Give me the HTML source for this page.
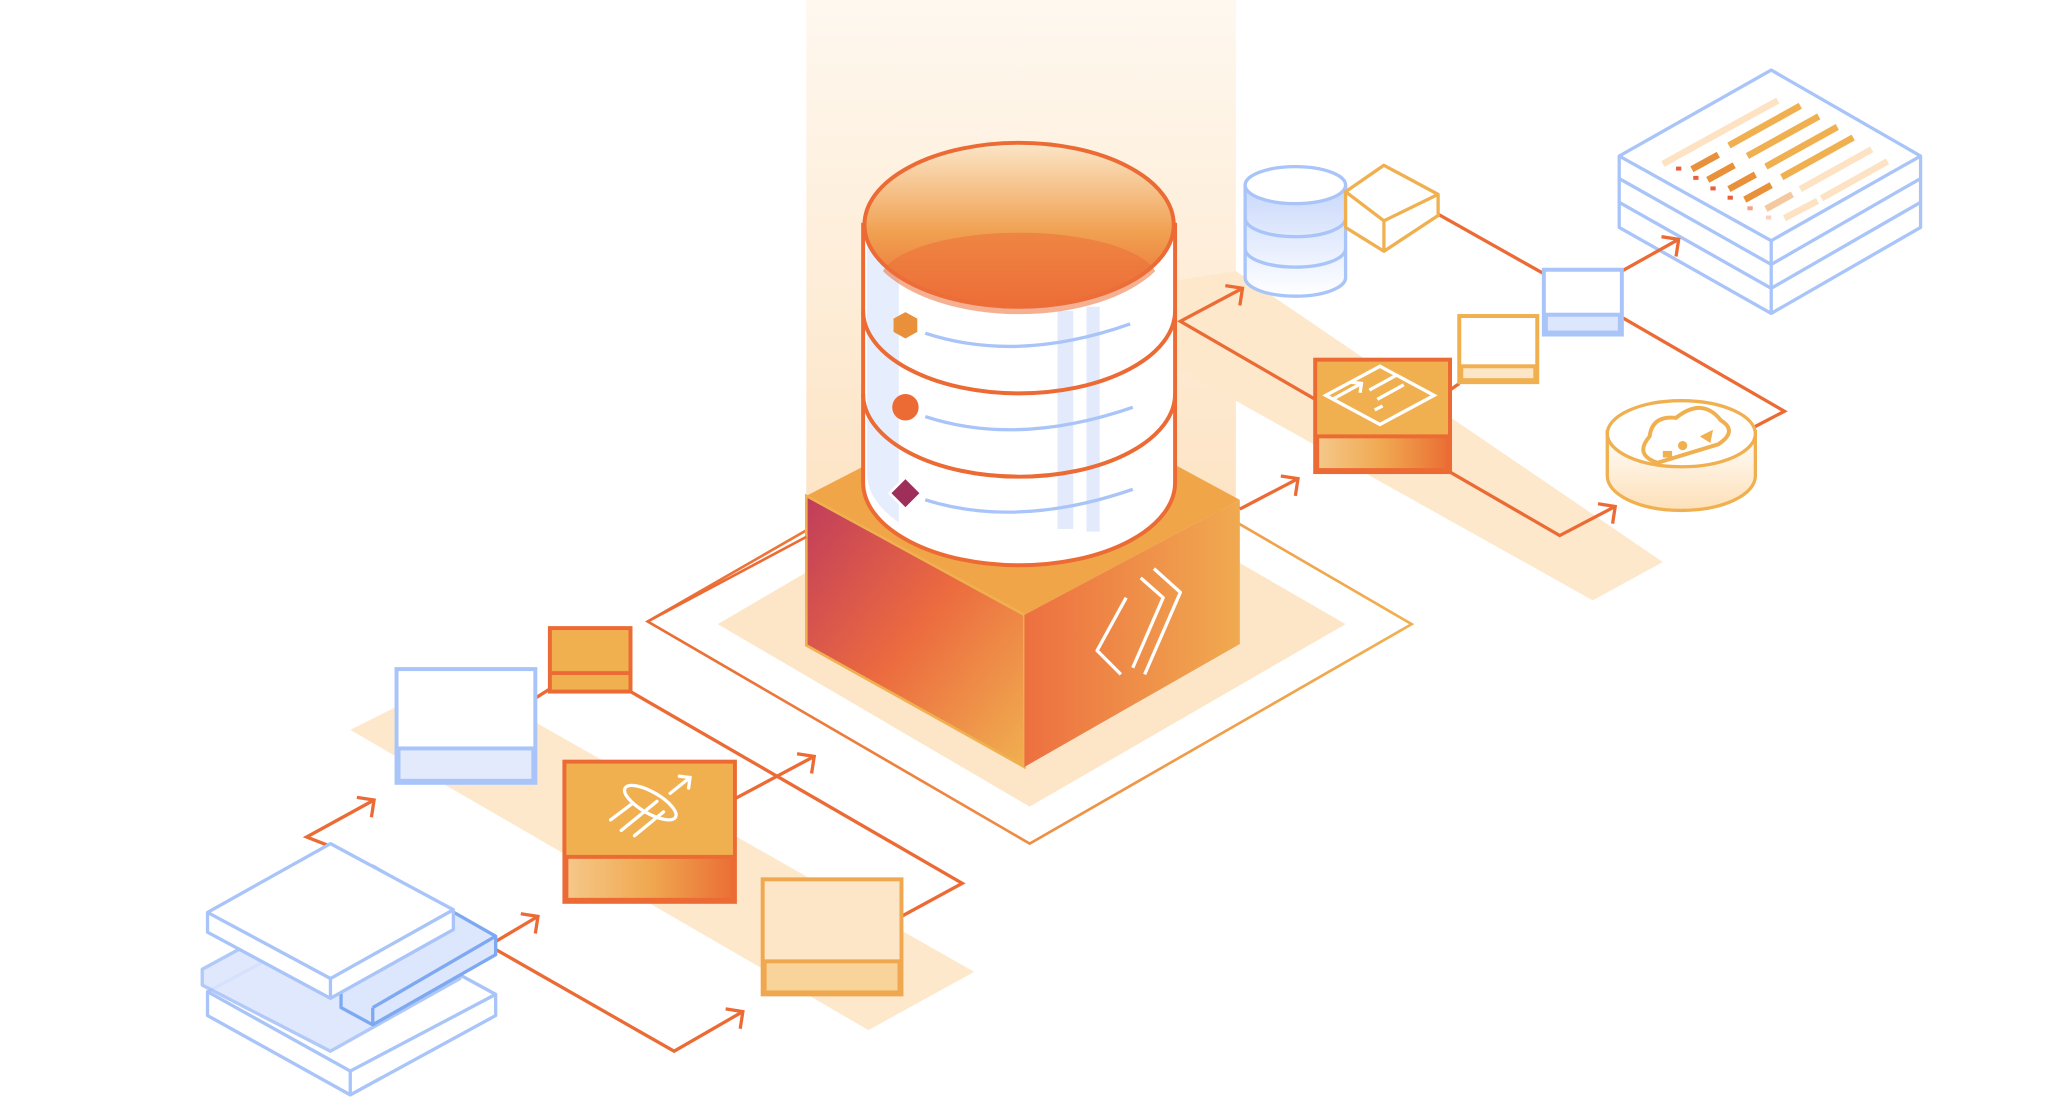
<!DOCTYPE html>
<html><head><meta charset="utf-8"><style>
html,body{margin:0;padding:0;background:#fff;width:2062px;height:1120px;overflow:hidden}
svg{display:block}
</style></head><body>
<svg width="2062" height="1120" viewBox="0 0 1560 847" preserveAspectRatio="none" xmlns="http://www.w3.org/2000/svg">
<defs>
<linearGradient id="beam" x1="0" y1="0" x2="0" y2="1"><stop offset="0" stop-color="#fef8ef"/><stop offset="1" stop-color="#fde3c3"/></linearGradient>
<linearGradient id="lface" x1="0" y1="0" x2="1" y2="1"><stop offset="0" stop-color="#c03c5c"/><stop offset="0.5" stop-color="#ec6b3f"/><stop offset="1" stop-color="#f0b050"/></linearGradient>
<linearGradient id="rface" x1="0" y1="0" x2="1" y2="0"><stop offset="0" stop-color="#ed7040"/><stop offset="1" stop-color="#f0aa50"/></linearGradient>
<linearGradient id="inner" x1="0" y1="0" x2="0" y2="1"><stop offset="0" stop-color="#fbe6c8"/><stop offset="0.55" stop-color="#f0a050"/><stop offset="1" stop-color="#ec6b35"/></linearGradient>
<linearGradient id="bot" x1="0" y1="0" x2="1" y2="0"><stop offset="0" stop-color="#f5c88a"/><stop offset="0.5" stop-color="#f0a850"/><stop offset="1" stop-color="#ea6f35"/></linearGradient>
<linearGradient id="bdb" x1="0" y1="0" x2="0" y2="1"><stop offset="0" stop-color="#c8d8fb"/><stop offset="1" stop-color="#fff"/></linearGradient>
<linearGradient id="disc" x1="0" y1="0" x2="0" y2="1"><stop offset="0" stop-color="#fff"/><stop offset="1" stop-color="#fde0b8"/></linearGradient>
<linearGradient id="plin" x1="0" y1="0" x2="1" y2="0"><stop offset="0" stop-color="#ec6b35"/><stop offset="1" stop-color="#f0b050"/></linearGradient>
</defs>

<rect x="610" y="0" width="325" height="400" fill="url(#beam)"/>

<polygon points="265,552 345,512 737,735 657,779" fill="#fde8cc"/>
<polygon points="890,212 935,205 1258,425 1205,454 890,278" fill="#fde8cc"/>

<polygon points="543,472 779,334 1018,472 779,610" fill="#fde6c8"/>
<polygon points="490,470 779,304 1068,472 779,638" fill="none" stroke="url(#plin)" stroke-width="2"/>

<polygon points="610,375 775,290 938,378 775,465" fill="#f0a548"/>
<polygon points="610,375 775,465 775,580 610,488" fill="url(#lface)" stroke="#f0b050" stroke-width="2"/>
<polygon points="775,465 938,378 938,487 775,580" fill="url(#rface)"/>
<g fill="none" stroke="#fff" stroke-width="2.5" stroke-linejoin="round">
<path d="M852,452 L830,492 L848,510"/>
<path d="M863,437 L880,452 L857,505"/>
<path d="M873,430 L893,448 L866,510"/>
</g>

<path d="M653,170 L653,365 A117,62 0 0 0 889,365 L889,170 Z" fill="#fff" stroke="#ec6b35" stroke-width="3"/>
<rect x="800" y="235" width="12" height="165" fill="#e2eafc"/>
<rect x="822" y="232" width="10" height="170" fill="#e2eafc"/>
<path d="M656,180 L656,360 A114,60 0 0 0 680,395 L680,200 Z" fill="#e6edfc"/>
<ellipse cx="771" cy="170" rx="117" ry="62" fill="url(#inner)" stroke="#ec6b35" stroke-width="3"/>
<path d="M668,205 A105,36 0 0 1 874,205 A117,62 0 0 1 668,205 Z" fill="#ec6f38" opacity="0.55"/>
<g fill="none" stroke="#ec6b35" stroke-width="3">
<path d="M653,235 A117,62 0 0 0 889,235"/>
<path d="M653,298 A117,62 0 0 0 889,298"/>
</g>
<g fill="none" stroke="#a8c4f8" stroke-width="2.5">
<path d="M700,252 Q770,275 855,245"/>
<path d="M700,315 Q770,338 857,308"/>
<path d="M700,378 Q770,400 857,370"/>
</g>
<polygon points="685,236 694,241 694,251 685,256 676,251 676,241" fill="#e8913a"/>
<circle cx="685" cy="308" r="10" fill="#ec6b35"/>
<polygon points="685,361 697,373 685,385 673,373" fill="#9e2f5a" stroke="#fff" stroke-width="2"/>

<g fill="none" stroke="#ec6b35" stroke-width="2.5">
<polyline points="250,640 232,633 283,605"/><polyline points="270,603 283,605 281,618"/>
<polyline points="375,712 407,693"/><polyline points="394,691 407,693 405,706"/>
<polyline points="375,718 510,795 562,765"/><polyline points="549,763 562,765 560,778"/>
<line x1="405" y1="528" x2="416" y2="521"/>
<polyline points="477,523 728,668 682,693"/>
<polyline points="556,604 616,572"/><polyline points="603,570 616,572 614,585"/>
<line x1="490" y1="470" x2="610" y2="406" stroke-width="2"/>
</g>

<rect x="300" y="506" width="105" height="86" fill="#fff" stroke="#a8c4f8" stroke-width="3"/>
<rect x="301.5" y="566" width="102" height="24.5" fill="#e2eafc" stroke="#a8c4f8" stroke-width="3"/>
<rect x="416" y="475" width="61" height="48" fill="#f0b050" stroke="#ec6b35" stroke-width="3"/>
<line x1="416" y1="509" x2="477" y2="509" stroke="#ec6b35" stroke-width="3"/>
<rect x="427" y="576" width="129" height="106" fill="#f0b050" stroke="#ec6b35" stroke-width="3"/>
<rect x="428.5" y="648" width="126" height="32.5" fill="url(#bot)" stroke="#ec6b35" stroke-width="3"/>
<g fill="none" stroke="#fff" stroke-width="2.5" stroke-linecap="round">
<ellipse cx="492" cy="607" rx="22" ry="8" transform="rotate(30 492 607)"/>
<line x1="470" y1="628" x2="497" y2="606"/><line x1="480" y1="632" x2="502" y2="614"/>
<line x1="462" y1="620" x2="478" y2="608"/><line x1="507" y1="600" x2="522" y2="588"/>
<polyline points="514,587 522,588 521,596"/>
</g>
<rect x="577" y="665" width="105" height="87" fill="#fde6c8" stroke="#f0a850" stroke-width="3"/>
<rect x="578.5" y="727" width="102" height="23.5" fill="#f8d49a" stroke="#f0a850" stroke-width="3"/>

<g stroke="#a8c4f8" stroke-width="2.5" stroke-linejoin="round">
<polygon points="157,750 265,692 375,752 375,768 265,828 157,768" fill="#fff"/>
<line x1="157" y1="750" x2="265" y2="810"/><line x1="265" y1="810" x2="375" y2="752"/><line x1="265" y1="810" x2="265" y2="828"/>
<polygon points="153,733 260,675 348,722 348,740 250,795 153,745" fill="#dce6fc" opacity="0.9"/>
<polygon points="282,655 375,708 375,722 282,775 258,762 258,748" fill="#dce6fc" stroke="#7da8f2"/>
<line x1="282" y1="762" x2="375" y2="708" stroke="#7da8f2"/><line x1="282" y1="762" x2="282" y2="775" stroke="#7da8f2"/>
<polygon points="157,690 250,638 343,688 343,703 250,755 157,705" fill="#fff"/>
<polyline points="157,690 250,740 343,688" fill="none"/><line x1="250" y1="740" x2="250" y2="755"/>
</g>

<!-- doc stack -->
<g fill="#fff" stroke="#a8c4f8" stroke-width="2.5" stroke-linejoin="round">
<polygon points="1225,118 1340,53 1453,118 1453,172 1340,237 1225,172"/>
<polyline points="1225,118 1340,182 1453,118" fill="none"/>
<polyline points="1225,135 1340,200 1453,135" fill="none"/>
<polyline points="1225,153 1340,218 1453,153" fill="none"/>
<line x1="1340" y1="182" x2="1340" y2="237"/>
</g>
<g stroke-width="5" stroke-linecap="butt">
<line x1="1258" y1="124" x2="1345" y2="76" stroke="#fde3c3"/>
<line x1="1280" y1="128" x2="1300" y2="117" stroke="#e8913a"/>
<line x1="1308" y1="110" x2="1362" y2="80" stroke="#f0b050"/>
<line x1="1292" y1="136" x2="1312" y2="125" stroke="#e8913a"/>
<line x1="1322" y1="118" x2="1376" y2="88" stroke="#f0b050"/>
<line x1="1308" y1="143" x2="1328" y2="132" stroke="#e8913a"/>
<line x1="1336" y1="126" x2="1390" y2="96" stroke="#f0b050"/>
<line x1="1320" y1="151" x2="1340" y2="140" stroke="#e8913a"/>
<line x1="1348" y1="134" x2="1402" y2="104" stroke="#f0b050"/>
<line x1="1336" y1="158" x2="1356" y2="147" stroke="#f5c9a0"/>
<line x1="1362" y1="143" x2="1416" y2="113" stroke="#fde3c3"/>
<line x1="1350" y1="165" x2="1375" y2="152" stroke="#fde3c3"/>
<line x1="1378" y1="150" x2="1428" y2="122" stroke="#fde3c3"/>
</g>
<g fill="#e8603a">
<rect x="1268" y="126" width="4" height="3"/><rect x="1281" y="133" width="4" height="3"/><rect x="1294" y="141" width="4" height="3"/><rect x="1307" y="148" width="4" height="3"/><rect x="1322" y="156" width="4" height="3" fill="#f5a08a"/><rect x="1336" y="163" width="4" height="3" fill="#fbd0c0"/>
</g>

<g fill="none" stroke="#ec6b35" stroke-width="2.5">
<polyline points="938,385 982,362"/><polyline points="969,360 982,362 980,375"/>
<polyline points="995,302 893,243 940,218"/><polyline points="927,216 940,218 938,231"/>
<polyline points="1097,357 1180,405 1222,383"/><polyline points="1209,381 1222,383 1220,396"/>
<line x1="1097" y1="295" x2="1104" y2="290"/>
<line x1="1088" y1="162" x2="1168" y2="207"/>
<polyline points="1227,205 1270,181"/><polyline points="1257,179 1270,181 1268,194"/>
<polyline points="1227,240 1350,311 1327,323"/>
</g>

<rect x="995" y="272" width="102" height="85" fill="#f0b050" stroke="#ec6b35" stroke-width="3"/>
<rect x="996.5" y="330" width="99" height="25.5" fill="url(#bot)" stroke="#ec6b35" stroke-width="3"/>
<g fill="none" stroke="#fff" stroke-width="2.5">
<polygon points="1003,299 1044,277 1085,299 1044,321"/>
<polyline points="1008,302 1030,290"/><polyline points="1022,289 1030,290 1029,297"/>
<line x1="1036" y1="295" x2="1056" y2="284"/><line x1="1042" y1="302" x2="1062" y2="291"/><line x1="1040" y1="310" x2="1046" y2="307"/>
</g>
<rect x="1104" y="239" width="59" height="50" fill="#fff" stroke="#f0b050" stroke-width="3"/>
<rect x="1105.5" y="277" width="56" height="10.5" fill="#fde6c8" stroke="#f0b050" stroke-width="3"/>
<rect x="1168" y="204" width="59" height="49" fill="#fff" stroke="#a8c4f8" stroke-width="3"/>
<rect x="1169.5" y="238" width="56" height="13.5" fill="#dce6fc" stroke="#a8c4f8" stroke-width="3"/>

<g stroke="#a8c4f8" stroke-width="2.5">
<path d="M942,140 L942,210 A38,14 0 0 0 1018,210 L1018,140" fill="url(#bdb)"/>
<ellipse cx="980" cy="140" rx="38" ry="14" fill="#fff"/>
<path d="M942,165 A38,14 0 0 0 1018,165" fill="none"/>
<path d="M942,188 A38,14 0 0 0 1018,188" fill="none"/>
</g>
<g fill="#fff" stroke="#f0b050" stroke-width="2.5" stroke-linejoin="round">
<polygon points="1018,145 1047,125 1088,147 1088,163 1047,190 1018,172"/>
<polyline points="1018,145 1047,167 1088,147" fill="none"/><line x1="1047" y1="167" x2="1047" y2="190"/>
</g>

<g stroke="#f0b050" stroke-width="2.5">
<path d="M1216,325 L1216,360 A56,26 0 0 0 1328,360 L1328,325" fill="url(#disc)"/>
<ellipse cx="1272" cy="328" rx="56" ry="25" fill="#fff"/>
<path d="M1254,350 Q1236,344 1248,330 Q1250,314 1268,316 Q1288,300 1302,318 Q1315,326 1300,336 Z" fill="none" stroke-width="3"/>
</g>
<circle cx="1273" cy="337" r="3.5" fill="#f0b050"/><rect x="1258" y="341" width="7" height="5" fill="#f0b050"/><polygon points="1286,330 1296,325 1294,335" fill="#f0b050"/>
</svg>
</body></html>
